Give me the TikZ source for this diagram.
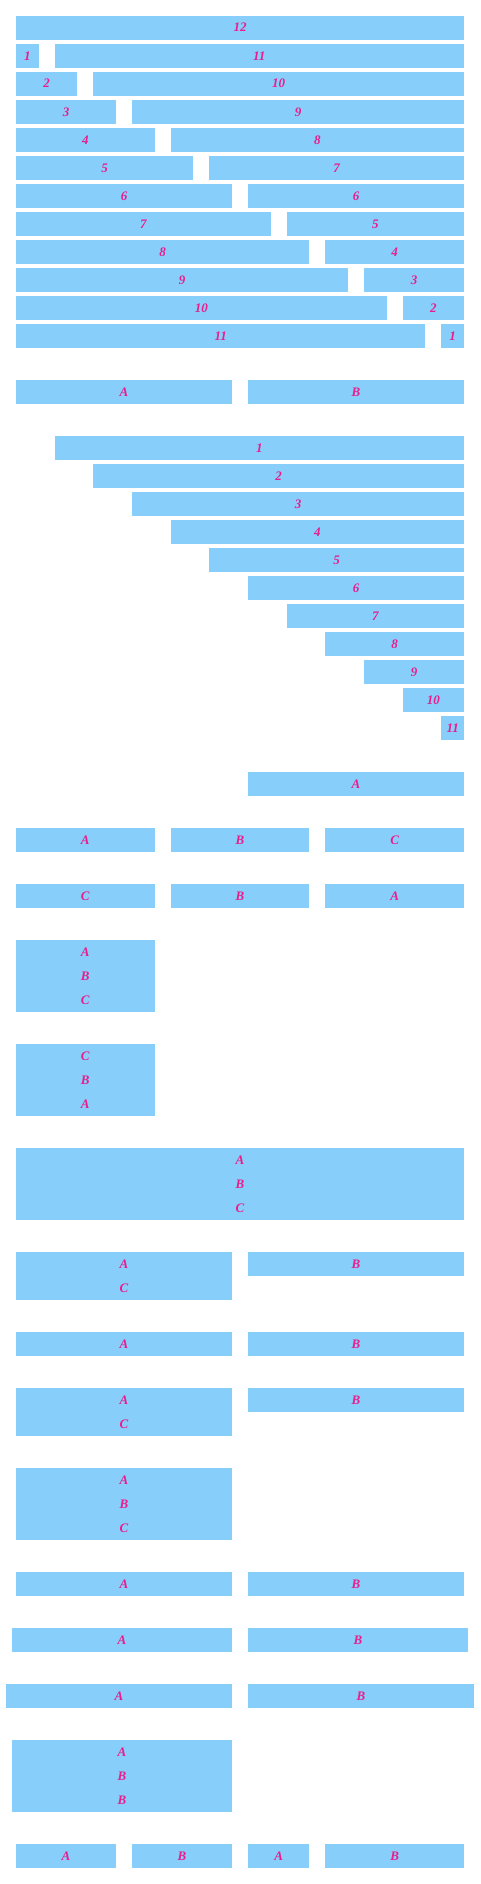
\documentclass[tikz,border=0pt]{standalone}
\usepackage{fontspec}
\setmainfont{Liberation Serif}
\definecolor{cellfill}{RGB}{135,206,250}
\definecolor{celltxt}{RGB}{235,28,140}
\tikzset{
  cellbox/.style={fill=cellfill, draw=none, inner sep=0pt, outer sep=0pt, anchor=north west},
  celltext/.style={text=celltxt, font=\fontsize{13}{15}\selectfont\bfseries\itshape, anchor=base, inner sep=0pt, outer sep=0pt}
}
% name, x1, y1, x2, y2
\newcommand\gbox[5]{\node[cellbox, minimum width={((#4)-(#2))*1pt}, minimum height={((#5)-(#3))*1pt}] (#1) at ({#2},{#3}) {};}
% name, x1, x2, baseline, text
\newcommand\glab[5]{\node[celltext] (#1) at ({((#2)+(#3))/2},{#4}) {#5};}
% name, startcol, span, top, label
\newcommand\gcol[5]{%
  \pgfmathsetmacro\xa{16+(#2)*116/3}%
  \pgfmathsetmacro\xb{\xa+(#3)*116/3-16}%
  \gbox{#1}{\xa}{#4}{\xb}{#4+24}%
  \glab{#1t}{\xa}{\xb}{#4+16}{#5}}
\begin{document}
\begin{tikzpicture}[x=1pt,y=-1pt]
\fill[white] (0,0) rectangle (480,1884);
\useasboundingbox (0,0) rectangle (480,1884);
% section 1: splits
\foreach \k in {0,...,11}{%
  \pgfmathtruncatemacro\top{16+28*\k}%
  \pgfmathtruncatemacro\rk{12-\k}%
  \ifnum\k=0
    \gcol{s0}{0}{12}{\top}{12}
  \else
    \gcol{s\k l}{0}{\k}{\top}{\k}
    \gcol{s\k r}{\k}{\rk}{\top}{\rk}
  \fi
}
% A B halves
\gcol{h1a}{0}{6}{380}{A}
\gcol{h1b}{6}{6}{380}{B}
% offsets
\foreach \n in {1,...,11}{%
  \pgfmathtruncatemacro\top{436+28*(\n-1)}%
  \pgfmathtruncatemacro\sp{12-\n}%
  \gcol{o\n}{\n}{\sp}{\top}{\n}
}
\gcol{oa}{6}{6}{772}{A}
% thirds
\gcol{t1a}{0}{4}{828}{A}
\gcol{t1b}{4}{4}{828}{B}
\gcol{t1c}{8}{4}{828}{C}
\gcol{t2c}{0}{4}{884}{C}
\gcol{t2b}{4}{4}{884}{B}
\gcol{t2a}{8}{4}{884}{A}
% stacked 4-col
\gbox{st1}{16}{940}{464/3}{1012}
\glab{st1a}{16}{464/3}{956}{A}
\glab{st1b}{16}{464/3}{980}{B}
\glab{st1c}{16}{464/3}{1004}{C}
\gbox{st2}{16}{1044}{464/3}{1116}
\glab{st2c}{16}{464/3}{1060}{C}
\glab{st2b}{16}{464/3}{1084}{B}
\glab{st2a}{16}{464/3}{1108}{A}
% full stacked
\gbox{fs}{16}{1148}{464}{1220}
\glab{fsa}{16}{464}{1164}{A}
\glab{fsb}{16}{464}{1188}{B}
\glab{fsc}{16}{464}{1212}{C}
% AC + B
\gbox{ac1}{16}{1252}{232}{1300}
\glab{ac1a}{16}{232}{1268}{A}
\glab{ac1c}{16}{232}{1292}{C}
\gcol{ac1b}{6}{6}{1252}{B}
% A B
\gcol{h2a}{0}{6}{1332}{A}
\gcol{h2b}{6}{6}{1332}{B}
% AC + B
\gbox{ac2}{16}{1388}{232}{1436}
\glab{ac2a}{16}{232}{1404}{A}
\glab{ac2c}{16}{232}{1428}{C}
\gcol{ac2b}{6}{6}{1388}{B}
% ABC 6-col
\gbox{hs}{16}{1468}{232}{1540}
\glab{hsa}{16}{232}{1484}{A}
\glab{hsb}{16}{232}{1508}{B}
\glab{hsc}{16}{232}{1532}{C}
% A B
\gcol{h3a}{0}{6}{1572}{A}
\gcol{h3b}{6}{6}{1572}{B}
% wider variants
\gbox{w1a}{12}{1628}{232}{1652}
\glab{w1at}{12}{232}{1644}{A}
\gbox{w1b}{248}{1628}{468}{1652}
\glab{w1bt}{248}{468}{1644}{B}
\gbox{w2a}{6}{1684}{232}{1708}
\glab{w2at}{6}{232}{1700}{A}
\gbox{w2b}{248}{1684}{474}{1708}
\glab{w2bt}{248}{474}{1700}{B}
% ABB
\gbox{abb}{12}{1740}{232}{1812}
\glab{abba}{12}{232}{1756}{A}
\glab{abbb}{12}{232}{1780}{B}
\glab{abbc}{12}{232}{1804}{B}
% nested last row
\gbox{n1}{16}{1844}{116}{1868}
\glab{n1t}{16}{116}{1860}{A}
\gbox{n2}{132}{1844}{232}{1868}
\glab{n2t}{132}{232}{1860}{B}
\gbox{n3}{248}{1844}{928/3}{1868}
\glab{n3t}{248}{928/3}{1860}{A}
\gbox{n4}{976/3}{1844}{464}{1868}
\glab{n4t}{976/3}{464}{1860}{B}
\end{tikzpicture}
\end{document}
